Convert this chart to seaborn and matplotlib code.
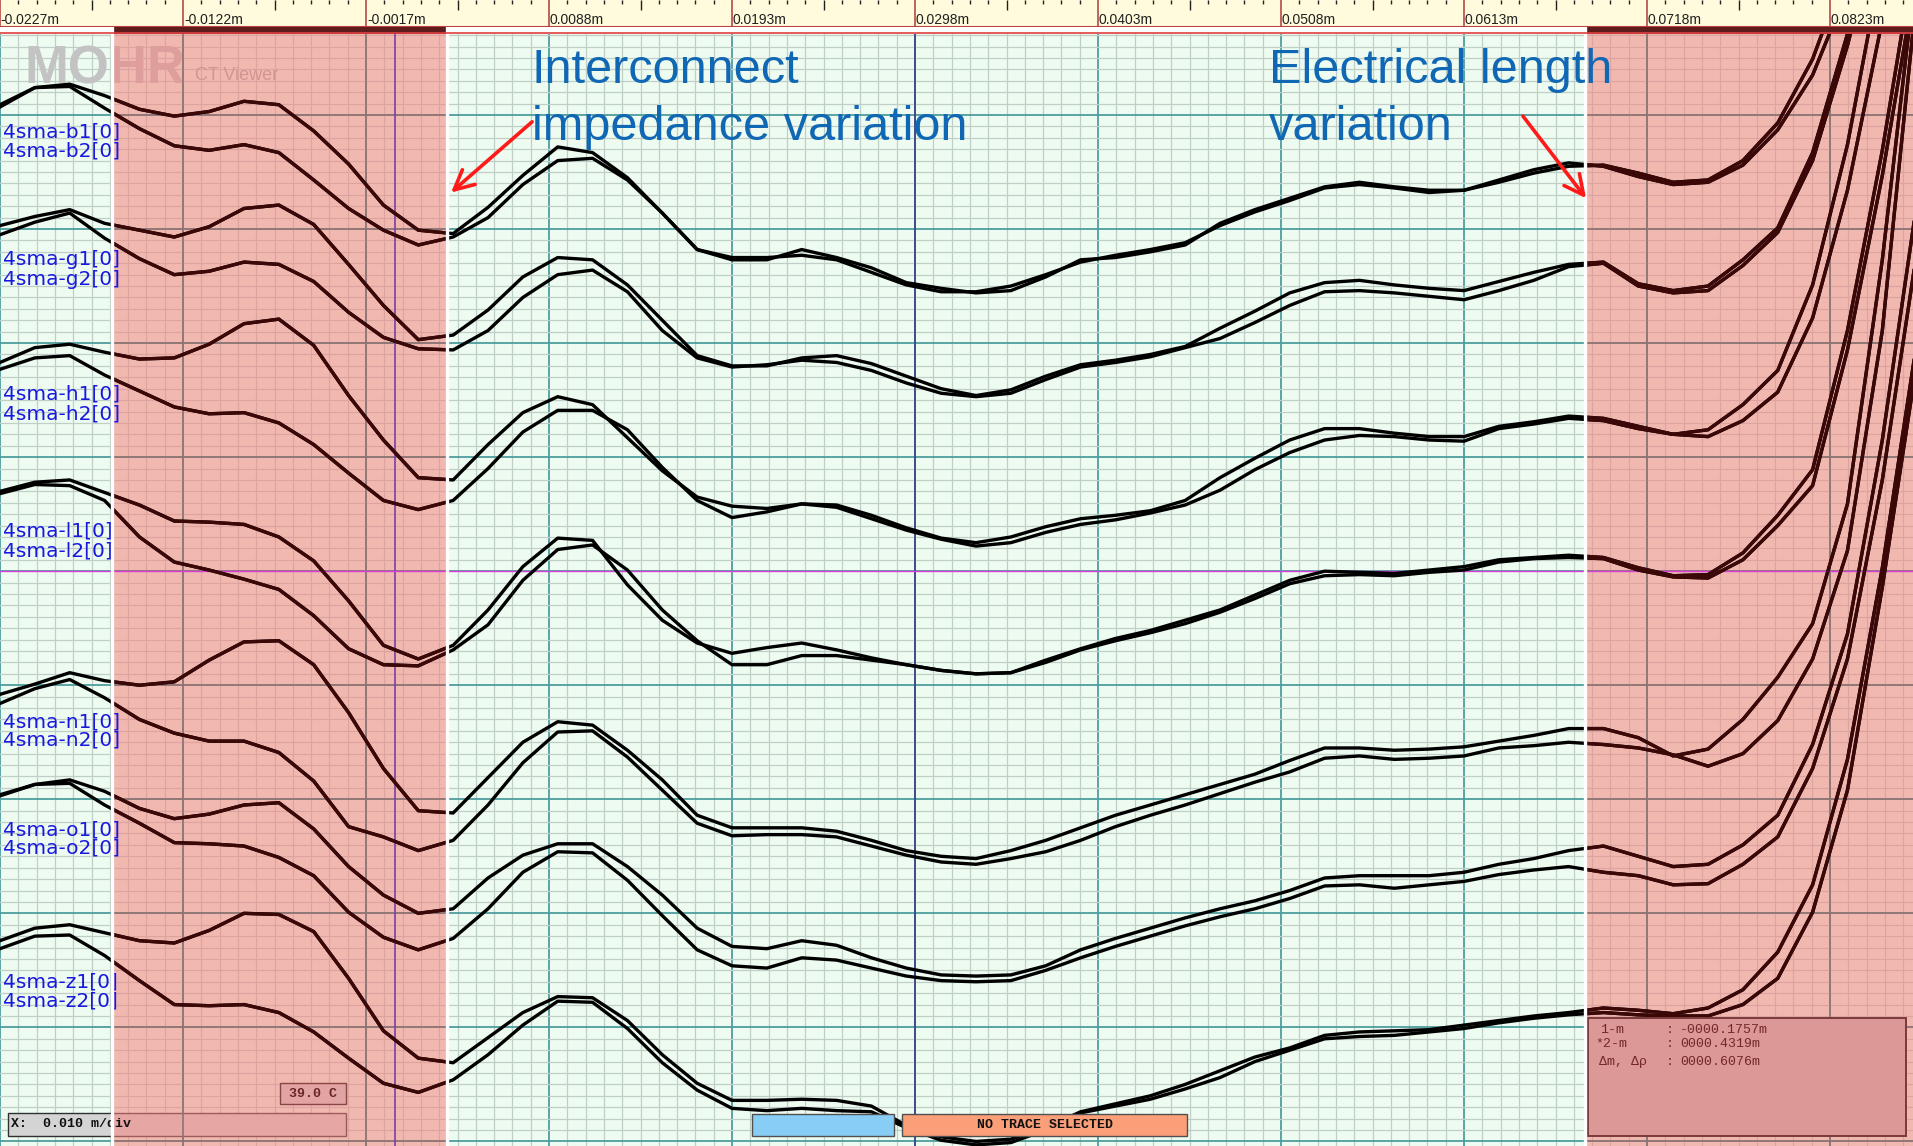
import matplotlib
matplotlib.use('Agg')
import matplotlib.pyplot as plt
from matplotlib.patches import Rectangle
from matplotlib.ticker import FixedLocator
import numpy as np
import pandas as pd
import seaborn as sns

# sample positions along the trace (m)
distance = [-0.0227, -0.0207, -0.0187, -0.0167, -0.0147, -0.0127, -0.0107, -0.0087,
            -0.0067, -0.0047, -0.0027, -0.0007, 0.0013, 0.0033, 0.0053, 0.0073,
            0.0093, 0.0113, 0.0133, 0.0153, 0.0173, 0.0193, 0.0213, 0.0233,
            0.0253, 0.0273, 0.0293, 0.0313, 0.0333, 0.0353, 0.0373, 0.0393,
            0.0413, 0.0433, 0.0453, 0.0473, 0.0493, 0.0513, 0.0533, 0.0553,
            0.0573, 0.0593, 0.0613, 0.0633, 0.0653, 0.0673, 0.0693, 0.0713,
            0.0733, 0.0753, 0.0773, 0.0793, 0.0813, 0.0833, 0.0853, 0.0873]

# trace levels (100 units per vertical division, 0 at the horizontal cursor)
b1 = [409, 424, 427, 417, 405, 399, 403, 412, 409, 386, 357, 321, 299, 296, 319, 347, 372, 367, 345, 314,
      282, 273, 273, 282, 275, 266, 253, 248, 244, 246, 258, 273, 275, 280, 286, 305, 317, 327, 337, 341,
      337, 334, 334, 341, 349, 355, 356, 349, 341, 343, 360, 393, 449, 532, 632, 729]
b2 = [407, 424, 425, 406, 388, 373, 369, 374, 367, 343, 318, 299, 286, 293, 310, 339, 360, 362, 343, 314,
      282, 275, 275, 277, 273, 262, 251, 245, 245, 250, 260, 271, 277, 282, 288, 303, 315, 325, 336, 339,
      336, 332, 334, 343, 352, 358, 355, 346, 339, 341, 356, 387, 435, 510, 597, 685]
g1 = [303, 311, 317, 305, 299, 293, 302, 318, 321, 304, 269, 233, 203, 207, 229, 258, 275, 273, 251, 220,
      189, 180, 180, 187, 189, 182, 171, 160, 154, 159, 171, 181, 185, 190, 197, 213, 228, 244, 253, 255,
      251, 248, 246, 254, 262, 269, 271, 252, 246, 250, 273, 301, 367, 471, 588, 702]
g2 = [295, 306, 314, 292, 274, 260, 263, 271, 269, 254, 227, 205, 195, 194, 211, 240, 260, 264, 245, 211,
      187, 179, 181, 185, 183, 176, 165, 156, 153, 156, 168, 179, 183, 188, 196, 204, 218, 233, 245, 246,
      244, 241, 238, 246, 255, 267, 270, 250, 244, 246, 268, 297, 360, 461, 580, 694]
h1 = [183, 196, 199, 192, 186, 187, 199, 217, 221, 198, 154, 115, 82, 80, 111, 139, 153, 146, 117, 88,
      65, 57, 55, 59, 58, 49, 38, 29, 25, 30, 39, 46, 49, 53, 62, 82, 99, 115, 125, 125,
      121, 118, 118, 127, 131, 136, 134, 127, 120, 124, 146, 176, 251, 374, 536, 702]
h2 = [177, 187, 189, 172, 158, 144, 138, 139, 130, 111, 86, 62, 54, 62, 90, 122, 141, 141, 124, 91,
      62, 47, 52, 59, 56, 46, 36, 28, 22, 25, 34, 41, 45, 51, 58, 71, 89, 104, 115, 119,
      118, 115, 114, 125, 129, 134, 132, 125, 120, 118, 132, 157, 222, 334, 483, 632]
l1 = [70, 78, 80, 69, 58, 44, 43, 41, 30, 9, -26, -65, -77, -65, -34, 4, 29, 27, -12, -43,
      -63, -72, -67, -63, -69, -76, -82, -87, -90, -89, -78, -68, -59, -52, -43, -34, -21, -8, 0, -1,
      -2, 1, 4, 10, 12, 14, 12, 3, -4, -3, 16, 49, 89, 211, 369, 553]
l2 = [68, 76, 75, 62, 30, 8, 1, -7, -16, -39, -68, -82, -83, -69, -47, -8, 19, 23, 1, -34,
      -61, -82, -82, -74, -74, -78, -82, -87, -90, -89, -80, -69, -61, -54, -46, -36, -24, -11, -4, -3,
      -4, -1, 1, 8, 11, 12, 11, 1, -5, -6, 10, 40, 75, 194, 347, 527]
n1 = [-108, -99, -89, -96, -100, -97, -78, -62, -61, -82, -124, -173, -210, -212, -181, -150, -132, -135, -157, -183,
      -214, -225, -225, -225, -228, -236, -245, -250, -252, -245, -236, -225, -214, -205, -196, -187, -178, -166, -155, -155,
      -157, -156, -154, -149, -144, -138, -138, -146, -162, -156, -130, -93, -46, 59, 273, 536]
n2 = [-116, -103, -95, -111, -130, -142, -149, -149, -159, -184, -224, -233, -245, -236, -205, -168, -141, -140, -163, -192,
      -221, -232, -231, -231, -233, -241, -249, -255, -257, -252, -246, -236, -224, -214, -205, -195, -185, -176, -164, -162,
      -165, -164, -162, -155, -153, -150, -152, -155, -161, -171, -160, -131, -77, 18, 211, 510]
o1 = [-196, -187, -183, -193, -208, -217, -213, -205, -203, -226, -259, -284, -300, -296, -269, -249, -239, -239, -259, -284,
      -313, -329, -331, -324, -328, -339, -348, -354, -355, -354, -346, -332, -322, -313, -304, -296, -289, -280, -269, -267,
      -267, -267, -264, -257, -252, -245, -241, -250, -259, -257, -240, -214, -152, -55, 115, 325]
o2 = [-197, -187, -186, -205, -221, -238, -239, -241, -251, -267, -299, -321, -332, -322, -296, -264, -246, -247, -271, -302,
      -332, -346, -348, -339, -341, -348, -355, -359, -360, -359, -350, -339, -329, -320, -311, -303, -296, -287, -276, -275,
      -278, -275, -272, -266, -262, -259, -264, -267, -275, -274, -257, -233, -173, -77, 80, 282]
z1 = [-324, -313, -310, -317, -324, -326, -315, -300, -301, -316, -357, -403, -427, -431, -409, -387, -373, -374, -394, -424,
      -449, -464, -464, -463, -464, -469, -486, -496, -500, -498, -488, -474, -467, -460, -450, -438, -426, -418, -407, -404,
      -403, -402, -398, -394, -390, -387, -383, -385, -388, -383, -367, -334, -275, -165, 3, 203]
z2 = [-331, -320, -319, -337, -359, -380, -381, -380, -387, -404, -427, -449, -457, -446, -424, -398, -377, -378, -401, -431,
      -455, -471, -473, -471, -473, -474, -488, -499, -503, -501, -490, -475, -469, -463, -454, -444, -430, -420, -410, -408,
      -407, -404, -401, -396, -392, -389, -387, -389, -390, -390, -380, -357, -299, -192, -14, 185]

trace_names = ['4sma-b1', '4sma-b2', '4sma-g1', '4sma-g2', '4sma-h1', '4sma-h2', '4sma-l1',
               '4sma-l2', '4sma-n1', '4sma-n2', '4sma-o1', '4sma-o2', '4sma-z1', '4sma-z2']
trace_values = [b1, b2, g1, g2, h1, h2, l1, l2, n1, n2, o1, o2, z1, z2]
label_levels = [385, 368, 273, 256, 155, 138, 35, 18, -132, -148, -227, -243, -360, -377]

cursor_lines = ['1-m', '*2-m', 'Δm, Δρ']
cursor_values = ['-0000.1757m', '0000.4319m', '0000.6076m']

x_min, x_max = -0.0227, 0.08706
y_min, y_max = -504, 471
ruler_start, ruler_step = -0.0227, 0.0105
pink_spans = [(-0.01627, 0.00295), (0.06824, x_max)]

SANS = ['Liberation Sans', 'DejaVu Sans']
MONO = ['Liberation Mono', 'DejaVu Sans Mono']

df = pd.DataFrame([(name, d, v) for name, vals in zip(trace_names, trace_values)
                   for d, v in zip(distance, vals)],
                  columns=['trace', 'distance', 'level'])

H = 1146.0
fig = plt.figure(figsize=(19.13, 11.46), dpi=100)
ax = fig.add_axes([0, 0, 1, 1112 / H])
bar = fig.add_axes([0, 1112 / H, 1, 7 / H])
ruler = fig.add_axes([0, 1119 / H, 1, 27 / H])

major_x = [ruler_start + ruler_step * k for k in range(11)]
minor_x = [ruler_start + ruler_step / 10 * k for k in range(105)]
major_y = list(range(-500, 471, 100))

# ---- main trace area
ax.set_facecolor('#eefbf0')
ax.set_xlim(x_min, x_max)
ax.set_ylim(y_min, y_max)
ax.xaxis.set_major_locator(FixedLocator(major_x))
ax.xaxis.set_minor_locator(FixedLocator(minor_x))
ax.yaxis.set_major_locator(FixedLocator(major_y))
ax.yaxis.set_minor_locator(FixedLocator(list(range(-500, 471, 10))))
ax.grid(which='minor', color='#bfcfc8', lw=0.9)
ax.grid(which='major', color='#4f9d9d', lw=1.3)
ax.set_axisbelow(True)
ax.tick_params(which='both', length=0, labelbottom=False, labelleft=False)
for s in ax.spines.values():
    s.set_visible(False)

# watermark
ax.text(-0.02132, 428, 'MOHR', fontsize=38, fontweight='bold', color='#c3c3c3',
        family=SANS, va='baseline', zorder=0.8)
ax.text(-0.01151, 431, 'CT Viewer', fontsize=13, color='#ababab', family=SANS,
        va='baseline', zorder=0.8)

# x scale box (under the shading)
ax.add_patch(Rectangle((-0.02224, -495), 0.01939, 20, facecolor='#d4d4d4',
                       edgecolor='#303030', lw=1, zorder=0.9))

for x0, x1 in pink_spans:
    ax.axvspan(x0, x1, color='#f5827d', alpha=0.55, lw=0, zorder=1)
    clip = Rectangle((x0, y_min), x1 - x0, y_max - y_min, transform=ax.transData)
    vl = ax.vlines(major_x, y_min, y_max, color='#8c7474', lw=1.2, zorder=1.05)
    hl = ax.hlines(major_y, x_min, x_max, color='#8c7474', lw=1.2, zorder=1.05)
    vl.set_clip_path(clip)
    hl.set_clip_path(clip)

ax.axvline(-0.00004, color='#7b3fa6', lw=1.2, zorder=1.5)
ax.axvline(0.0298, color='#3f4488', lw=1.3, zorder=1.5)
ax.axhline(0, color='#d640d6', lw=1.0, zorder=1.5)

sns.lineplot(data=df, x='distance', y='level', units='trace', estimator=None, sort=False,
             color='black', linewidth=2.4, legend=False, ax=ax, zorder=2)
for x0, x1 in pink_spans:
    n0 = len(ax.lines)
    sns.lineplot(data=df, x='distance', y='level', units='trace', estimator=None, sort=False,
                 color='#3c0707', linewidth=2.4, legend=False, ax=ax, zorder=2.1)
    clip = Rectangle((x0, y_min), x1 - x0, y_max - y_min, transform=ax.transData)
    for ln in ax.lines[n0:]:
        ln.set_clip_path(clip)
ax.set_xlabel('')
ax.set_ylabel('')

for name, lev in zip(trace_names, label_levels):
    ax.text(-0.02255, lev, name + '[0]', color='#1818e0', fontsize=14.5, va='center',
            ha='left', zorder=3.5)

note = dict(color='#1067b3', fontsize=35, family=SANS, va='baseline', zorder=5)
ax.text(0.00782, 428, 'Interconnect', **note)
ax.text(0.00782, 378, 'impedance variation', **note)
ax.text(0.05011, 428, 'Electrical length', **note)
ax.text(0.05011, 378, 'variation', **note)

arrow = dict(arrowstyle='->,head_length=0.7,head_width=0.35', color='#ff1a1a', lw=2.6,
             mutation_scale=20, shrinkA=0, shrinkB=0)
ax.annotate('', xy=(0.00318, 332), xytext=(0.00783, 394), arrowprops=arrow, zorder=5)
ax.annotate('', xy=(0.0683, 327), xytext=(0.06468, 399), arrowprops=arrow, zorder=5)

# status boxes
mono_b = dict(family=MONO, fontweight='bold', fontsize=9.5, zorder=3.6)
ax.text(-0.02205, -485, 'X:  0.010 m/div', va='center', ha='left', color='#111111', **mono_b)
ax.add_patch(Rectangle((-0.00663, -467), 0.00378, 18, facecolor='#e2a3a3',
                       edgecolor='#8a4646', lw=1, zorder=3))
ax.text(-0.00474, -458, '39.0 C', va='center', ha='center', color='#6a2626', **mono_b)
ax.add_patch(Rectangle((0.02045, -495), 0.00815, 19, facecolor='#87cdf6',
                       edgecolor='#505050', lw=1, zorder=3))
ax.add_patch(Rectangle((0.02905, -495), 0.01636, 19, facecolor='#fb9f79',
                       edgecolor='#505050', lw=1, zorder=3))
ax.text(0.03723, -485.5, 'NO TRACE SELECTED', va='center', ha='center', color='#111111', **mono_b)

ax.add_patch(Rectangle((0.06841, -495), 0.01825, 103, facecolor='#dc9797',
                       edgecolor='#7a3a3a', lw=1.4, zorder=3))
for i, (lab, val) in enumerate(zip(cursor_lines, cursor_values)):
    yy = [-402, -415, -430][i]
    lx = [0.06910, 0.06881, 0.06904][i]
    kw = dict(family=MONO, fontsize=9.5, color='#742828', va='center', zorder=3.6)
    ax.text(lx, yy, lab, ha='left', **kw)
    ax.text(0.07289, yy, ':', ha='left', **kw)
    ax.text(0.07369, yy, val, ha='left', **kw)

for x in (pink_spans[0][0], pink_spans[0][1], pink_spans[1][0]):
    ax.axvline(x, color='white', lw=2.4, zorder=4)

# ---- dark bar under the ruler
bar.set_facecolor('#2f3b3b')
bar.set_xlim(x_min, x_max)
bar.set_ylim(0, 1)
for x0, x1 in pink_spans:
    bar.axvspan(x0, x1, color='#5e1d1d', lw=0)
for x in (pink_spans[0][0], pink_spans[0][1], pink_spans[1][0]):
    bar.axvline(x, color='white', lw=2.4)
bar.axhline(0.08, color='#e04040', lw=1.2)
bar.axis('off')

# ---- distance ruler
ruler.set_facecolor('#fffbdc')
ruler.set_xlim(x_min, x_max)
ruler.set_ylim(0, 1)
for k, x in enumerate(minor_x):
    if k % 10 == 0:
        ruler.vlines(x, 0, 1, color='#b03a3a', lw=1.1)
    elif k % 5 == 0:
        ruler.vlines(x, 1 - 10 / 27, 1, color='#202020', lw=1)
    else:
        ruler.vlines(x, 1 - 4 / 27, 1, color='#202020', lw=1)
for x in major_x:
    ruler.text(x + 0.00005, 0.12, f'{x:.4f}m', fontsize=10, family=SANS, color='#202020',
               va='baseline', ha='left')
ruler.set_xticks([])
ruler.set_yticks([])
for s in ruler.spines.values():
    s.set_visible(False)
ruler.axhline(0.0, color='#c04040', lw=1.5)

fig.savefig('out.png', dpi=100)
